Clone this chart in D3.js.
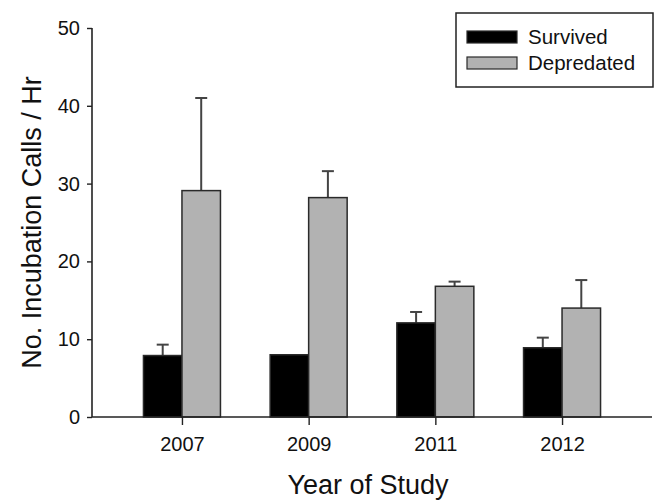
<!DOCTYPE html>
<html>
<head>
<meta charset="utf-8">
<script src="https://cdn.jsdelivr.net/npm/d3@7"></script>
<style>
  body { margin: 0; background: #fff; }
  svg { font-family: Arial, "Liberation Sans", sans-serif; }
</style>
</head>
<body>
<svg id="chart"></svg>
<script>
// data
const years = ["2007", "2009", "2011", "2012"];
const seriesNames = ["Survived", "Depredated"];
const survived = [7.9, 8.0, 12.1, 8.9];
const survivedErr = [1.4, 0, 1.4, 1.3];
const depredated = [29.1, 28.2, 16.8, 14.0];
const depredatedErr = [11.9, 3.4, 0.6, 3.6];
const yTicks = [0, 10, 20, 30, 40, 50];

const colors = {Survived: "#000000", Depredated: "#b2b2b2"};

const W = 659, H = 502;
const margin = {top: 28, right: 7, bottom: 85, left: 92};

const svg = d3.select("svg#chart")
    .attr("width", W)
    .attr("height", H);

const x = d3.scalePoint()
    .domain(years)
    .range([margin.left, W - margin.right])
    .padding(0.71);

const y = d3.scaleLinear()
    .domain([0, 50])
    .range([H - margin.bottom, margin.top]);

const barW = 38.5;

const rows = years.map((yr, i) => [
    {year: yr, name: "Survived", value: survived[i], err: survivedErr[i], off: -barW},
    {year: yr, name: "Depredated", value: depredated[i], err: depredatedErr[i], off: 0},
]).flat();

// error bars first (drawn behind bars)
const eb = svg.append("g").selectAll("g")
    .data(rows.filter(d => d.err > 0))
    .enter().append("g")
    .attr("stroke", "#444")
    .attr("stroke-width", 2);

eb.append("line")
    .attr("x1", d => x(d.year) + d.off + barW / 2)
    .attr("x2", d => x(d.year) + d.off + barW / 2)
    .attr("y1", d => y(d.value))
    .attr("y2", d => y(d.value + d.err));

eb.append("line")
    .attr("x1", d => x(d.year) + d.off + barW / 2 - 6)
    .attr("x2", d => x(d.year) + d.off + barW / 2 + 6)
    .attr("y1", d => y(d.value + d.err))
    .attr("y2", d => y(d.value + d.err));

svg.append("g").selectAll("rect")
    .data(rows)
    .enter().append("rect")
    .attr("x", d => x(d.year) + d.off)
    .attr("y", d => y(d.value))
    .attr("width", barW)
    .attr("height", d => y(0) - y(d.value))
    .attr("fill", d => colors[d.name])
    .attr("stroke", "#2a2a2a")
    .attr("stroke-width", 1.5);

// axes
const yAxis = svg.append("g")
    .attr("transform", "translate(" + margin.left + ",0)")
    .call(d3.axisLeft(y).tickValues(yTicks).tickSize(5).tickPadding(7));

const xAxis = svg.append("g")
    .attr("transform", "translate(0," + y(0) + ")")
    .call(d3.axisBottom(x).tickSize(8).tickPadding(12));

[yAxis, xAxis].forEach(a => {
    a.attr("font-size", null).attr("font-family", null);
    a.select(".domain").attr("stroke", "#222").attr("stroke-width", 1.6);
    a.selectAll(".tick line").attr("stroke", "#222").attr("stroke-width", 1.4);
    a.selectAll(".tick text")
        .style("font-size", "20px")
        .attr("fill", "#111");
});
xAxis.select(".domain").attr("d", "M" + margin.left + ",0H" + (W - margin.right));
yAxis.select(".domain").attr("d", "M0," + y(50) + "V" + y(0));

svg.append("text")
    .attr("transform", "translate(41," + (y(25)) + ") rotate(-90)")
    .attr("text-anchor", "middle")
    .style("font-size", "27px")
    .attr("fill", "#111")
    .text("No. Incubation Calls / Hr");

svg.append("text")
    .attr("x", (margin.left + W - margin.right) / 2 - 4)
    .attr("y", 494)
    .attr("text-anchor", "middle")
    .style("font-size", "27px")
    .attr("fill", "#111")
    .text("Year of Study");

// legend
const legend = svg.append("g");
legend.append("rect")
    .attr("x", 456).attr("y", 13)
    .attr("width", 197).attr("height", 74)
    .attr("fill", "#fff")
    .attr("stroke", "#222")
    .attr("stroke-width", 1.5);

const li = legend.selectAll("g.item")
    .data(seriesNames)
    .enter().append("g")
    .attr("class", "item")
    .attr("transform", (d, i) => "translate(467," + (31 + i * 26) + ")");

li.append("rect")
    .attr("width", 50).attr("height", 12)
    .attr("fill", d => colors[d])
    .attr("stroke", "#2a2a2a")
    .attr("stroke-width", 1.2);

li.append("text")
    .attr("x", 61).attr("y", 13)
    .style("font-size", "20.5px")
    .attr("fill", "#111")
    .text(d => d);
</script>
</body>
</html>
